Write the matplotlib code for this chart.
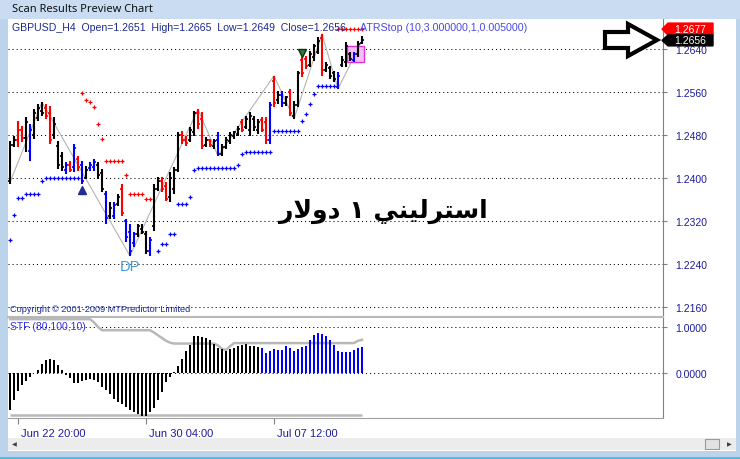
import matplotlib
matplotlib.use("Agg")
import matplotlib.pyplot as plt
from matplotlib.patches import Rectangle, Polygon
import matplotlib.transforms as mtransforms

W, H = 740, 460
UI_FONT = "Liberation Sans"
NAVY = "#1c1c9a"

# GBPUSD H4 bars
highs = [1.2469, 1.2478, 1.2506, 1.2497, 1.2513, 1.2500, 1.2528, 1.2538, 1.2541, 1.2538,
         1.2534, 1.2513, 1.2469, 1.2448, 1.2430, 1.2432, 1.2463, 1.2441, 1.2432, 1.2422,
         1.2430, 1.2435, 1.2430, 1.2417, 1.2376, 1.2356, 1.2356, 1.2370, 1.2389, 1.2324,
         1.2315, 1.2300, 1.2315, 1.2315, 1.2302, 1.2290, 1.2389, 1.2402, 1.2402, 1.2393,
         1.2411, 1.2420, 1.2485, 1.2487, 1.2478, 1.2495, 1.2525, 1.2528, 1.2523, 1.2476,
         1.2473, 1.2473, 1.2485, 1.2463, 1.2476, 1.2485, 1.2487, 1.2497, 1.2510, 1.2515,
         1.2523, 1.2515, 1.2510, 1.2513, 1.2513, 1.2541, 1.2590, 1.2562, 1.2562, 1.2553,
         1.2566, 1.2543, 1.2599, 1.2625, 1.2627, 1.2636, 1.2649, 1.2662, 1.2668, 1.2616,
         1.2608, 1.2599, 1.2597, 1.2627, 1.2653, 1.2634, 1.2634, 1.2655, 1.2665]
lows = [1.2389, 1.2458, 1.2458, 1.2467, 1.2448, 1.2432, 1.2473, 1.2506, 1.2515, 1.2510,
        1.2463, 1.2473, 1.2417, 1.2413, 1.2408, 1.2411, 1.2411, 1.2413, 1.2389, 1.2398,
        1.2413, 1.2413, 1.2398, 1.2374, 1.2315, 1.2324, 1.2324, 1.2348, 1.2329, 1.2281,
        1.2255, 1.2272, 1.2290, 1.2296, 1.2259, 1.2255, 1.2302, 1.2376, 1.2374, 1.2357,
        1.2355, 1.2370, 1.2411, 1.2463, 1.2460, 1.2467, 1.2478, 1.2491, 1.2454, 1.2458,
        1.2458, 1.2454, 1.2441, 1.2441, 1.2454, 1.2463, 1.2473, 1.2478, 1.2485, 1.2491,
        1.2478, 1.2487, 1.2482, 1.2485, 1.2463, 1.2463, 1.2532, 1.2538, 1.2532, 1.2534,
        1.2515, 1.2510, 1.2532, 1.2588, 1.2603, 1.2607, 1.2618, 1.2631, 1.2590, 1.2597,
        1.2584, 1.2579, 1.2566, 1.2607, 1.2607, 1.2618, 1.2616, 1.2625, 1.2649]
opens = [1.2395, 1.2462, 1.2470, 1.2490, 1.2475, 1.2450, 1.2480, 1.2512, 1.2525, 1.2530,
         1.2520, 1.2480, 1.2460, 1.2440, 1.2415, 1.2425, 1.2420, 1.2435, 1.2425, 1.2400,
         1.2418, 1.2420, 1.2425, 1.2410, 1.2370, 1.2330, 1.2330, 1.2352, 1.2380, 1.2320,
         1.2300, 1.2280, 1.2295, 1.2305, 1.2295, 1.2265, 1.2310, 1.2380, 1.2395, 1.2385,
         1.2365, 1.2380, 1.2415, 1.2480, 1.2470, 1.2470, 1.2485, 1.2520, 1.2510, 1.2462,
         1.2470, 1.2460, 1.2470, 1.2445, 1.2458, 1.2468, 1.2478, 1.2482, 1.2505, 1.2495,
         1.2490, 1.2510, 1.2490, 1.2508, 1.2505, 1.2470, 1.2580, 1.2545, 1.2555, 1.2540,
         1.2560, 1.2515, 1.2535, 1.2620, 1.2622, 1.2610, 1.2625, 1.2635, 1.2660, 1.2600,
         1.2605, 1.2595, 1.2570, 1.2610, 1.2615, 1.2630, 1.2620, 1.2630, 1.2651]
closes = [1.2462, 1.2470, 1.2490, 1.2475, 1.2505, 1.2490, 1.2520, 1.2530, 1.2520, 1.2515,
          1.2470, 1.2500, 1.2425, 1.2420, 1.2425, 1.2415, 1.2455, 1.2420, 1.2395, 1.2415,
          1.2425, 1.2430, 1.2405, 1.2380, 1.2325, 1.2345, 1.2350, 1.2365, 1.2335, 1.2290,
          1.2265, 1.2295, 1.2310, 1.2300, 1.2265, 1.2285, 1.2380, 1.2395, 1.2380, 1.2360,
          1.2400, 1.2415, 1.2480, 1.2470, 1.2465, 1.2490, 1.2520, 1.2500, 1.2460, 1.2470,
          1.2462, 1.2468, 1.2445, 1.2458, 1.2470, 1.2480, 1.2485, 1.2492, 1.2490, 1.2510,
          1.2515, 1.2495, 1.2505, 1.2490, 1.2470, 1.2535, 1.2540, 1.2555, 1.2540, 1.2550,
          1.2520, 1.2535, 1.2595, 1.2595, 1.2608, 1.2630, 1.2645, 1.2655, 1.2600, 1.2610,
          1.2590, 1.2585, 1.2590, 1.2620, 1.2645, 1.2622, 1.2630, 1.2650, 1.2656]
bar_codes = ("kkrrkbkkkr" "rkkkbrbrbk" "bbkkbkbkrb" "bbkkkbkkrr" "kkkrrkkrrk"
             "rkbkkkkkrk" "kkkrrbrkbk" "rkkrrkkkrk" "kkbkkkbkk")
code_color = {"k": "#000000", "r": "#ff0000", "b": "#0000ff"}

# ATRStop dots
stop_up_idx = [0, 1, 2, 3, 4, 5, 6, 7, 8, 9, 10, 11, 12, 13, 14, 15, 16, 17,
               37, 38, 39, 40, 41, 42, 43, 44, 45, 46, 47, 48, 49, 50, 51, 52, 53, 54, 55, 56,
               57, 58, 59, 60, 61, 62, 63, 64, 65, 66, 67, 68, 69, 70, 71, 72,
               73, 74, 75, 76, 77, 78, 79, 80, 81]
stop_up_val = [1.2285, 1.2331, 1.2363, 1.2363, 1.2370, 1.2370, 1.2370, 1.2370, 1.2395,
               1.2400, 1.2400, 1.2400, 1.2400, 1.2400, 1.2400, 1.2400, 1.2400, 1.2400,
               1.2264, 1.2277, 1.2277, 1.2296, 1.2296, 1.2352, 1.2352, 1.2352, 1.2364, 1.2415,
               1.2418, 1.2418, 1.2418, 1.2418, 1.2418, 1.2418, 1.2418, 1.2418, 1.2418, 1.2418,
               1.2424, 1.2445, 1.2449, 1.2449, 1.2449, 1.2449, 1.2449, 1.2449, 1.2449,
               1.2487, 1.2487, 1.2487, 1.2487, 1.2487, 1.2487, 1.2487,
               1.2506, 1.2519, 1.2538, 1.2556, 1.2571, 1.2571, 1.2571, 1.2571, 1.2571]
stop_dn_idx = [18, 19, 20, 21, 22, 23, 24, 25, 26, 27, 28, 29, 30, 31, 32, 33, 34, 35,
               82, 83, 84, 85, 86, 87, 88]
stop_dn_val = [1.2558, 1.2545, 1.2542, 1.2533, 1.2500, 1.2473, 1.2432, 1.2432, 1.2432,
               1.2432, 1.2432, 1.2405, 1.2370, 1.2370, 1.2370, 1.2370, 1.2361, 1.2361,
               1.2677, 1.2677, 1.2677, 1.2677, 1.2677, 1.2677, 1.2677]

# zigzag swing points
swing_idx = [0, 8, 30, 47, 52, 66, 71, 78, 82, 88]
swing_val = [1.2392, 1.2541, 1.2255, 1.2528, 1.2441, 1.2590, 1.2510, 1.2668, 1.2566, 1.2655]

# STF (80,100,10) histogram + envelope
stf = [-0.80, -0.58, -0.39, -0.27, -0.18, -0.09, -0.01, 0.07, 0.20, 0.29,
       0.30, 0.29, 0.18, 0.07, -0.04, -0.11, -0.21, -0.21, -0.18, -0.16,
       -0.12, -0.16, -0.20, -0.30, -0.38, -0.46, -0.56, -0.63, -0.68, -0.74,
       -0.81, -0.85, -0.90, -0.94, -0.94, -0.85, -0.75, -0.59, -0.41, -0.20,
       -0.09, 0.02, 0.15, 0.31, 0.48, 0.60, 0.80, 0.80, 0.78, 0.76,
       0.71, 0.62, 0.55, 0.53, 0.48, 0.53, 0.55, 0.59, 0.60, 0.64,
       0.59, 0.59, 0.57, 0.54, 0.43, 0.48, 0.52, 0.49, 0.49, 0.59,
       0.54, 0.48, 0.52, 0.57, 0.59, 0.71, 0.82, 0.87, 0.84, 0.80,
       0.71, 0.60, 0.48, 0.46, 0.46, 0.46, 0.49, 0.54, 0.57]
stf_upper = [1.17, 1.17, 1.17, 1.17, 1.17, 1.17, 1.17, 1.17, 1.17, 1.17,
             1.17, 1.17, 1.17, 1.17, 1.17, 1.17, 1.17, 1.17, 1.17, 1.17,
             1.17, 1.10, 1.00, 0.93, 0.93, 0.93, 0.93, 0.93, 0.93, 0.93,
             0.93, 0.93, 0.93, 0.93, 0.93, 0.93, 0.88, 0.82, 0.76, 0.70,
             0.66, 0.64, 0.64, 0.64, 0.64, 0.64, 0.64, 0.64, 0.64, 0.64,
             0.64, 0.64, 0.60, 0.52, 0.50, 0.58, 0.65, 0.65, 0.65, 0.65,
             0.65, 0.65, 0.65, 0.65, 0.65, 0.65, 0.65, 0.65, 0.65, 0.65,
             0.65, 0.65, 0.65, 0.65, 0.65, 0.65, 0.65, 0.65, 0.65, 0.65,
             0.65, 0.65, 0.65, 0.65, 0.65, 0.65, 0.65, 0.70, 0.72]
stf_lower = -0.91
stf_blue_from = 63

price_ticks = [1.2160, 1.2240, 1.2320, 1.2400, 1.2480, 1.2560, 1.2640]
stf_ticks = [0.0, 1.0]
date_ticks = [2, 34, 66]
date_labels = ["Jun 22 20:00", "Jun 30 04:00", "Jul 07 12:00"]

last_close = 1.2656
atr_level = 1.2677
header = "GBPUSD_H4  Open=1.2651  High=1.2665  Low=1.2649  Close=1.2656"
atr_label = "ATRStop (10,3.000000,1,0.005000)"
# "استرليني ١ دولار" written in presentation forms, visual order
arabic_note = "\uFEAD\uFEFB\uFEED\uFEA9 \u0661 \uFEF2\uFEE8\uFEF4\uFEDF\uFEAE\uFE98\uFEB3\uFE8D"


def box(x0, y0, x1, y1):
    return [x0 / W, 1 - y1 / H, (x1 - x0) / W, (y1 - y0) / H]


fig = plt.figure(figsize=(7.4, 4.6), dpi=100)
fig.patch.set_facecolor("#bcd3ec")
fig.patches.append(Rectangle((0, 1 - 20 / H), 1, 20 / H, transform=fig.transFigure,
                             fc="#c9dcf1", ec="none", zorder=-5))
fig.patches.append(Rectangle((8 / W, 1 - 452 / H), 728 / W, 432 / H, transform=fig.transFigure,
                             fc="white", ec="none", zorder=-5))
fig.text(12 / W, 1 - 10 / H, "Scan Results Preview Chart", fontsize=8, family="Noto Sans",
         va="center", color="#111111")

idx = list(range(len(highs)))
cols = [code_color[c] for c in bar_codes]

# ---- price panel
ax = fig.add_axes(box(8, 20, 663, 318))
ax.set_facecolor("none")
ax.set_xlim(-0.5, 163.25)
ax.set_ylim(1.21414, 1.26958)
for s in ["top", "left", "bottom"]:
    ax.spines[s].set_visible(False)
ax.spines["right"].set_color("#808080")
ax.set_xticks([])
ax.yaxis.tick_right()
ax.set_yticks(price_ticks)
ax.set_yticklabels([f"{v:.4f}" for v in price_ticks], family=UI_FONT)
ax.tick_params(axis="y", direction="out", length=3, color="#808080", labelsize=7.5,
               labelcolor=NAVY, pad=6)
for v in price_ticks:
    ax.axhline(v, color="black", lw=0.75, ls=(0, (1, 2.9)), zorder=1)

ax.plot(swing_idx, swing_val, color="#b4b4b4", lw=0.8, zorder=2)
ax.vlines(idx, lows, highs, colors=cols, lw=1.5, zorder=3)
ax.hlines(opens, [i - 0.45 for i in idx], idx, colors=cols, lw=1.2, zorder=3)
ax.hlines(closes, idx, [i + 0.45 for i in idx], colors=cols, lw=1.2, zorder=3)
ax.plot(stop_up_idx, stop_up_val, ls="none", marker="+", ms=3.2, mew=0.9, color="#0000ff", zorder=4)
ax.plot(stop_dn_idx, stop_dn_val, ls="none", marker="+", ms=3.2, mew=0.9, color="#ff0000",
        zorder=4, clip_on=False)

ax.plot([18], [1.2378], marker="^", ms=6, color="#1f2f8f", ls="none", zorder=4)
ax.plot([73], [1.2632], marker="v", ms=6, mfc="#2e7d32", mec="#103010", ls="none", zorder=4)
ax.text(30, 1.2236, "DP", color="#3b9be0", fontsize=10.5, family=UI_FONT, ha="center", va="center")
ax.add_patch(Rectangle((84.2, 1.2616), 4.2, 0.0030, fc="#f7b6f7", ec="#e020e0", lw=1, alpha=0.9, zorder=2))

# last-price flags on the axis
ytr = ax.get_yaxis_transform()
for lvl, fc, half in [(atr_level, "#ff0000", 0.00112), (last_close, "#000000", 0.00102)]:
    x0, x1, x2 = (662 - 8) / 655, (668 - 8) / 655, (713 - 8) / 655
    ax.add_patch(Polygon([(x0, lvl), (x1, lvl + half), (x2, lvl + half), (x2, lvl - half),
                          (x1, lvl - half)], closed=True, transform=ytr, fc=fc, ec=fc,
                         clip_on=False, zorder=6))
    ax.text((x1 + x2) / 2, lvl, f"{lvl:.4f}", transform=ytr, color="white", fontsize=7.5,
            family=UI_FONT, ha="center", va="center", clip_on=False, zorder=7)

fig.text(12 / W, 1 - 28 / H, header, fontsize=7.6, family=UI_FONT, color="#1b2a90", va="center")
fig.text(360 / W, 1 - 28 / H, atr_label, fontsize=7.7, family=UI_FONT, color="#4848e6", va="center")
fig.text(10 / W, 1 - 310 / H, "Copyright \u00a9 2001-2009 MTPredictor Limited", fontsize=6.6,
         family=UI_FONT, color="#1b2a90", va="center")
fig.text(383 / W, 1 - 211 / H, arabic_note, fontsize=18, fontweight="bold",
         family=["DejaVu Sans"], ha="center", va="center", color="black")

arrow_px = [(605, 33), (628, 33), (628, 25), (657, 41), (628, 57), (628, 49), (605, 49)]
fig.patches.append(Polygon([(x / W, 1 - y / H) for x, y in arrow_px], closed=True,
                           transform=fig.transFigure, fc="white", ec="black", lw=3,
                           joinstyle="miter", zorder=10))

# ---- STF panel
ind = fig.add_axes(box(8, 318, 663, 419))
ind.set_facecolor("none")
ind.set_xlim(-0.5, 163.25)
ind.set_ylim(-0.978, 1.217)
ind.spines["left"].set_visible(False)
ind.spines["top"].set_color("#b8b8b8")
ind.spines["top"].set_linewidth(1.5)
ind.spines["bottom"].set_color("#a0a0a0")
ind.spines["right"].set_color("#808080")
stf_cols = ["#000000" if i < stf_blue_from else "#0000ff" for i in idx]
ind.bar(idx, stf, width=0.5, color=stf_cols, linewidth=0, zorder=3)
ind.plot(idx, stf_upper, color="#b8b8b8", lw=1.8, zorder=2)
ind.hlines(stf_lower, idx[0], idx[-1], color="#b8b8b8", lw=1.8, zorder=2)
for v in stf_ticks:
    ind.axhline(v, color="black", lw=0.75, ls=(0, (1, 2.9)), zorder=1)
ind.yaxis.tick_right()
ind.set_yticks(stf_ticks)
ind.set_yticklabels([f"{v:.4f}" for v in stf_ticks], family=UI_FONT)
ind.tick_params(axis="y", direction="out", length=3, color="#808080", labelsize=7.5,
                labelcolor=NAVY, pad=6)
ind.set_xticks(date_ticks)
ind.set_xticklabels(date_labels, family=UI_FONT, ha="left")
ind.tick_params(axis="x", direction="out", length=4, color="#808080", labelsize=8,
                labelcolor=NAVY, pad=3)
shift = mtransforms.ScaledTranslation(3 / 100, 0, fig.dpi_scale_trans)
for lbl in ind.get_xticklabels():
    lbl.set_transform(lbl.get_transform() + shift)
ind.text(0.003, 0.91, "STF (80,100,10)", transform=ind.transAxes, fontsize=7.5,
         family=UI_FONT, color="#3030e0", va="center")

# scrollbar strip
fig.patches.append(Rectangle((8 / W, 1 - 451 / H), 728 / W, 12 / H, transform=fig.transFigure,
                             fc="#ececec", ec="none", zorder=1))
fig.patches.append(Rectangle((705 / W, 1 - 450 / H), 14 / W, 10 / H, transform=fig.transFigure,
                             fc="#e2e2e2", ec="#9a9a9a", lw=0.8, zorder=2))
fig.text(14 / W, 1 - 445 / H, "\u25c0", fontsize=4.5, color="#404040", va="center", ha="center")
fig.text(729 / W, 1 - 445 / H, "\u25b6", fontsize=4.5, color="#404040", va="center", ha="center")
fig.patches.append(Rectangle((0, 0), 1, 2 / H, transform=fig.transFigure,
                             fc="#45c3dc", ec="none", zorder=1))

fig.savefig("out.png", dpi=100, facecolor=fig.get_facecolor())
